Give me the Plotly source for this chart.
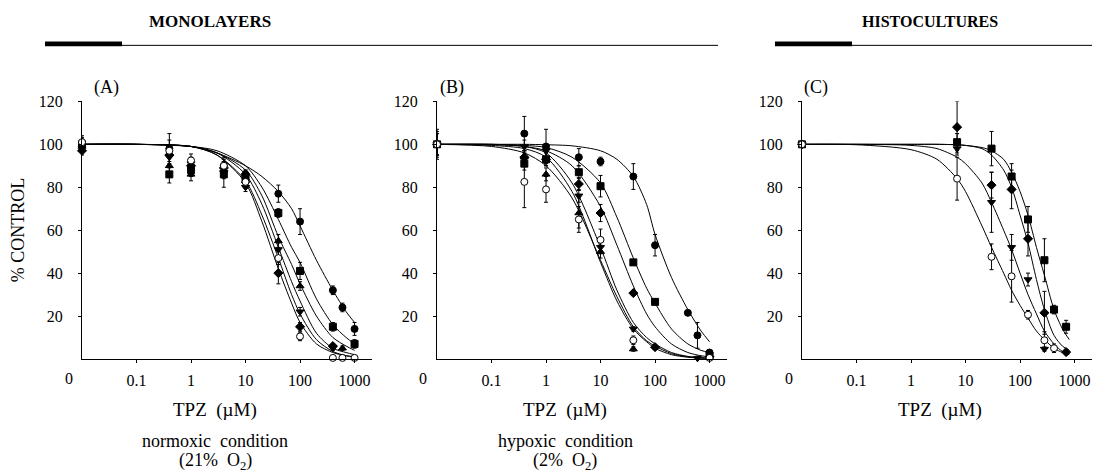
import plotly.graph_objects as go

# ---------------- data ----------------
# x = 0.01 stands for the "0" (control) dose drawn on the y axis
A_x = [0.01, 0.4, 1, 4, 10, 40, 100, 400, 600, 1000]
A_circle      = [100, 98, 89, 90, 86, 77, 64, 32, 24, 14]
A_circle_err  = [3, 4, 3, 4, 2, 4, 6, 2, 2, 3]
A_square      = [100, 86, 88, 86, 84, 68, 41, 15, None, 7]
A_square_err  = [3, 4, 3, 6, 2, 2, 4, 2, None, 2]
A_tri_up      = [99, 90, 86, 88, 83, 55, 34, None, 5, None]
A_tri_up_err  = [3, 4, 3, 3, 3, 3, 2, None, 1, None]
A_tri_dn      = [98, 94, 91, 87, 80, 51, 22, 5, None, None]
A_tri_dn_err  = [2, 3, 3, 3, 2, 3, 2, 1, None, None]
A_diamond     = [97, 95, 90, 89, 86, 40, 15, 6, None, None]
A_diamond_err = [2, 3, 3, 3, 2, 5, 2, 1, None, None]
A_open        = [101, 97, 92.5, 90, 82.5, 47, 10.5, 0.5, 0.5, 0.5]
A_open_err    = [3, 8, 3, 3, 3, 3, 2, 0, 0, 0]

B_x = [0.01, 0.4, 1, 4, 10, 40, 100, 400, 600, 1000]
B_circle      = [100, 105, 99, 94, 92, 85, 53, 21.5, 11, 3]
B_circle_err  = [7, 8, 8, 4, 2, 6, 5, 1, 6, 1]
B_square      = [100, 91, 93, 87, 80.5, 45, 26.6, None, None, 1.5]
B_square_err  = [5, 3, 3, 3, 5, 1, 1, None, None, 1]
B_diamond     = [100, 94, 93, 81.5, 68, 30.7, 5.5, None, None, 1]
B_diamond_err = [5, 3, 3, 3, 4, 1, 1, None, None, 1]
B_tri_dn      = [100, 99, 97, 76, 52, 14, None, None, 0.3, None]
B_tri_dn_err  = [5, 3, 3, 3, 3, 1, None, None, 1, None]
B_tri_up      = [100, 94, 86, 68, 50, 4.6, None, None, None, None]
B_tri_up_err  = [5, 3, 3, 7, 3, 1, None, None, None, None]
B_open        = [100, 82.5, 79, 65, 55.5, 8.7, None, None, None, 0.5]
B_open_err    = [6, 12, 6, 6, 5, 2, None, None, None, 0]

C_x = [0.01, 7, 30, 70, 140, 280, 420, 700]
C_square      = [100, 101, 98, 85, 65, 46, 23, 15]
C_square_err  = [1, 4, 8, 6, 6, 10, 2, 3]
C_diamond     = [100, 108, 81, 79, 56, 21.5, None, 3.2]
C_diamond_err = [1, 12, 6, 9, 8, 10, None, 1]
C_tri_dn      = [100, 98, 73, 52, 37, 4.6, None, None]
C_tri_dn_err  = [1, 3, 14, 6, 3, 1, None, None]
C_open        = [100, 84, 47.6, 38.5, 20.6, 8.7, 5, None]
C_open_err    = [1, 10, 6, 12, 2, 4, 2, None]

# fitted curves
A_curve_x = [0.01, 0.1, 1, 3, 10, 20, 40, 70, 100, 200, 400, 700, 1000]
A_curve_circle  = [100, 100, 99, 96, 90, 85, 78, 70, 62, 46, 32, 22, 17]
A_curve_square  = [100, 100, 99, 97, 90, 80, 65, 52, 45, 28, 16, 10, 7]
A_curve_tri_up  = [100, 100, 99, 96, 88, 76, 57, 44, 35, 20, 10, 6, 4]
A_curve_tri_dn  = [100, 100, 99, 96, 86, 72, 52, 36, 27, 12, 5, 3, 2]
A_curve_diamond = [100, 100, 99, 95, 82, 64, 42, 26, 17, 7, 3, 1.5, 1]
A_curve_open    = [100, 100, 99, 95, 83, 67, 47, 30, 21, 9, 3.5, 1.5, 1]

B_curve_x = [0.01, 0.1, 0.4, 1, 3, 10, 20, 40, 70, 100, 200, 400, 700, 1000]
B_curve_circle  = [100, 100, 100, 99.8, 99.3, 97, 93, 85, 72, 58, 38, 23, 13, 8]
B_curve_square  = [100, 100, 99.5, 98.5, 94, 82, 66, 47, 33, 26, 14, 7, 4, 3]
B_curve_diamond = [100, 100, 99, 97, 90, 71, 53, 34, 21, 15, 7, 3, 1.5, 1]
B_curve_tri_dn  = [100, 99.8, 99, 96, 82, 52, 32, 17, 10, 7, 3, 1.2, 0.6, 0.4]
B_curve_tri_up  = [100, 99.5, 98, 94, 78, 45, 27, 14, 8, 5, 2, 0.8, 0.4, 0.3]
B_curve_open    = [100, 99, 96, 90, 75, 46, 29, 15, 8.5, 6, 2.5, 1, 0.5, 0.4]

C_curve_x = [0.01, 0.1, 1, 3, 7, 10, 20, 30, 50, 70, 100, 140, 200, 280, 420, 600, 800]
C_curve_square  = [100, 100, 100, 100, 99.8, 99.5, 98.5, 97, 93, 87, 78, 67, 52, 39, 23, 14, 9]
C_curve_diamond = [100, 100, 100, 100, 99.8, 99.5, 98, 95, 88, 80, 67, 54, 37, 23, 11, 6, 4]
C_curve_tri_dn  = [100, 100, 99.5, 98, 94, 91, 82, 73, 60, 51, 40, 30, 21, 13, 7, 3.5, 2.5]
C_curve_open    = [100, 99.8, 97.5, 93, 84, 78, 62, 52, 40, 32, 25, 19, 13, 9, 5, 3, 2]

x_tickvals = [0.1, 1, 10, 100, 1000]
x_ticktext = ["0.1", "1", "10", "100", "1000"]
y_tickvals = [20, 40, 60, 80, 100, 120]

# ---------------- figure ----------------
W, H = 1099, 473
FONT = "Liberation Serif, Times New Roman, serif"

def px(x):
    return x / W

def py(y):
    return 1 - y / H

fig = go.Figure()

def add_curve(xa, ya, x, y):
    fig.add_trace(go.Scatter(x=x, y=y, mode="lines", xaxis=xa, yaxis=ya,
                             line=dict(color="black", width=1, shape="spline", smoothing=0.8),
                             hoverinfo="skip", showlegend=False, cliponaxis=False))

def add_points(xa, ya, x, y, err, symbol, hollow=False):
    fig.add_trace(go.Scatter(
        x=x, y=y, mode="markers", xaxis=xa, yaxis=ya, showlegend=False, cliponaxis=False,
        marker=dict(symbol=symbol, size=7, color="white" if hollow else "black",
                    line=dict(color="black", width=1)),
        error_y=dict(type="data", array=err, visible=True, color="black", thickness=1, width=2)))

# Panel A
for yc in [A_curve_circle, A_curve_square, A_curve_tri_up, A_curve_tri_dn, A_curve_diamond, A_curve_open]:
    add_curve("x", "y", A_curve_x, yc)
add_points("x", "y", A_x, A_circle, A_circle_err, "circle")
add_points("x", "y", A_x, A_square, A_square_err, "square")
add_points("x", "y", A_x, A_tri_up, A_tri_up_err, "triangle-up")
add_points("x", "y", A_x, A_tri_dn, A_tri_dn_err, "triangle-down")
add_points("x", "y", A_x, A_diamond, A_diamond_err, "diamond")
add_points("x", "y", A_x, A_open, A_open_err, "circle", hollow=True)

# Panel B
for yc in [B_curve_circle, B_curve_square, B_curve_diamond, B_curve_tri_dn, B_curve_tri_up, B_curve_open]:
    add_curve("x2", "y2", B_curve_x, yc)
add_points("x2", "y2", B_x, B_circle, B_circle_err, "circle")
add_points("x2", "y2", B_x, B_square, B_square_err, "square")
add_points("x2", "y2", B_x, B_diamond, B_diamond_err, "diamond")
add_points("x2", "y2", B_x, B_tri_dn, B_tri_dn_err, "triangle-down")
add_points("x2", "y2", B_x, B_tri_up, B_tri_up_err, "triangle-up")
add_points("x2", "y2", B_x, B_open, B_open_err, "circle", hollow=True)

# Panel C
for yc in [C_curve_square, C_curve_diamond, C_curve_tri_dn, C_curve_open]:
    add_curve("x3", "y3", C_curve_x, yc)
add_points("x3", "y3", C_x, C_square, C_square_err, "square")
add_points("x3", "y3", C_x, C_diamond, C_diamond_err, "diamond")
add_points("x3", "y3", C_x, C_tri_dn, C_tri_dn_err, "triangle-down")
add_points("x3", "y3", C_x, C_open, C_open_err, "circle", hollow=True)

tickfont = dict(family=FONT, size=16, color="black")
xdoms = [(82, 372), (437, 727), (802, 1092)]
ydom = [py(357), py(95)]

layout = dict(
    width=W, height=H, margin=dict(l=0, r=0, t=0, b=0),
    paper_bgcolor="white", plot_bgcolor="white",
    font=dict(family=FONT, color="black"),
)
for i, (x0, x1) in enumerate(xdoms):
    suffix = "" if i == 0 else str(i + 1)
    layout["xaxis" + suffix] = dict(
        type="log", range=[-2, 3.32], domain=[px(x0), px(x1)],
        anchor="y" + suffix, showline=True, linecolor="black", linewidth=1,
        ticks="outside", ticklen=3, tickcolor="black", showgrid=False, zeroline=False,
        tickvals=x_tickvals, ticktext=x_ticktext, tickfont=tickfont, ticklabelstandoff=4)
    layout["yaxis" + suffix] = dict(
        range=[0, 120], domain=ydom, anchor="x" + suffix,
        showline=True, linecolor="black", linewidth=1,
        ticks="outside", ticklen=3, tickcolor="black", showgrid=False, zeroline=False,
        tickvals=y_tickvals, tickfont=tickfont, ticklabelstandoff=12)
fig.update_layout(**layout)

ann = []
def text(x, y, s, size=15, bold=False, angle=0):
    ann.append(dict(x=px(x), y=py(y), xref="paper", yref="paper", text=("<b>%s</b>" % s) if bold else s,
                    showarrow=False, xanchor="center", yanchor="middle", textangle=angle,
                    font=dict(family=FONT, size=size, color="black")))

text(210, 14, "MONOLAYERS", size=17, bold=True)
text(930, 14, "HISTOCULTURES", size=16, bold=True)
text(106, 81, "(A)", size=18)
text(452, 81, "(B)", size=18)
text(816, 81, "(C)", size=18)
text(18, 226, "% CONTROL", size=18, angle=-90)
for x0 in (69, 423, 789):
    text(x0, 377, "0", size=16)
text(215, 409, "TPZ  (µM)", size=19)
text(565, 409, "TPZ  (µM)", size=19)
text(940, 409, "TPZ  (µM)", size=19)
text(215, 440, "normoxic  condition", size=18)
text(215, 461, "(21%  O<sub>2</sub>)", size=18)
text(565, 440, "hypoxic  condition", size=18)
text(565, 461, "(2%  O<sub>2</sub>)", size=18)
fig.update_layout(annotations=ann)

shapes = []
def hline(x0, x1, y, w=1):
    shapes.append(dict(type="line", xref="paper", yref="paper", x0=px(x0), x1=px(x1), y0=py(y), y1=py(y),
                       line=dict(color="black", width=w)))
def bar(x0, x1, y0, y1):
    shapes.append(dict(type="rect", xref="paper", yref="paper", x0=px(x0), x1=px(x1), y0=py(y1), y1=py(y0),
                       fillcolor="black", line=dict(width=0)))
hline(45, 718, 38)
bar(45, 122, 34, 39)
hline(775, 1092, 38)
bar(775, 852, 34, 39)
fig.update_layout(shapes=shapes)

fig.write_html("out.html", config={"displayModeBar": False},
               post_script="document.body.style.margin='0px';document.body.style.overflow='hidden';")
